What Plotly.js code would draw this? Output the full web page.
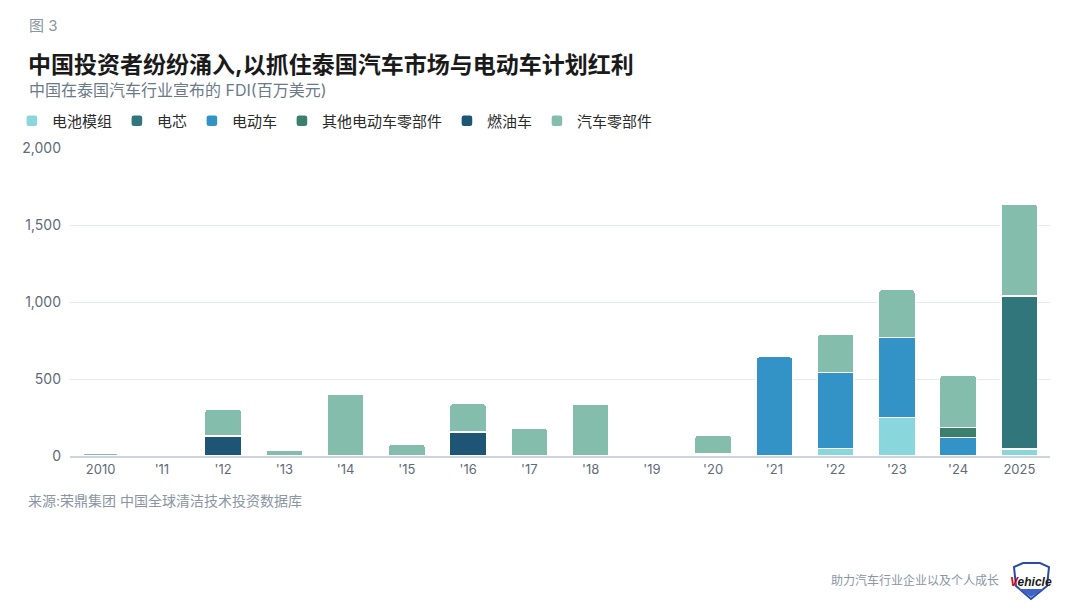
<!DOCTYPE html>
<html>
<head>
<meta charset="utf-8">
<script src="https://cdn.plot.ly/plotly-3.0.1.min.js"></script>
<style>
html,body{margin:0;padding:0;background:#fff;}
#chart{width:1080px;height:614px;}
</style>
</head>
<body>
<div id="chart"></div>
<script>
// ---- data ----
const years = ['2010','2011','2012','2013','2014','2015','2016','2017','2018','2019','2020','2021','2022','2023','2024','2025'];
const yearLabels = ['2010',"'11","'12","'13","'14","'15","'16","'17","'18","'19","'20","'21","'22","'23","'24",'2025'];
const batteryModule = [null,null,null,null,null,null,null,null,null,null,null,null,48,250,null,45];
const batteryCell   = [null,null,null,null,null,null,null,null,null,null,null,null,null,null,null,995];
const ev            = [null,null,null,null,null,null,null,null,null,null,14,645,493,520,120,null];
const otherEvParts  = [null,null,null,null,null,null,null,null,null,null,null,null,null,null,65,null];
const iceVehicles   = [null,null,130,null,null,null,155,null,null,null,null,null,null,null,null,null];
const autoParts     = [16,null,173,39,403,78,185,180,338,null,122,null,250,310,340,595];
const yTicks = [0,500,1000,1500,2000];

const seriesNames = ['电池模组','电芯','电动车','其他电动车零部件','燃油车','汽车零部件'];
const seriesData = [batteryModule,batteryCell,ev,otherEvParts,iceVehicles,autoParts];
const seriesColors = ['#89d6dc','#31767b','#3393c6','#3d7f6e','#1f5574','#85bdad'];

// ---- layout helpers (plot area in pixels) ----
const PL = 70, PR = 1050, PT = 148, PB = 456;
const px = x => (x - PL) / (PR - PL);
const py = y => (PB - y) / (PB - PT);

const FONT = 'Inter, "Noto Sans CJK SC", "Noto Sans", sans-serif';

const traces = seriesNames.map((n,i)=>({
  type:'bar', name:n, x:years, y:seriesData[i],
  marker:{color:seriesColors[i], line:{color:'#ffffff', width:1.4}, cornerradius:3},
  hoverinfo:'skip'
}));

function pathFromPx(pts){
  return pts.map((p,i)=>(i===0?'M':'L')+px(p[0]).toFixed(5)+','+py(p[1]).toFixed(5)).join(' ')+' Z';
}

const layout = {
  width:1080, height:614,
  margin:{l:PL, r:1080-PR, t:PT, b:614-PB},
  paper_bgcolor:'#ffffff', plot_bgcolor:'#ffffff',
  font:{family:FONT, color:'#333'},
  barmode:'stack', bargap:0.4,
  showlegend:true,
  legend:{orientation:'h', xref:'container', yref:'container', x:0.011, y:1-121/614, yanchor:'middle', xanchor:'left',
          font:{size:15, color:'#2b2b2b', family:FONT}, traceorder:'normal', itemclick:false, itemwidth:30},
  title:{text:'<b>中国投资者纷纷涌入,以抓住泰国汽车市场与电动车计划红利</b>', xref:'container', yref:'container',
         x:28/1080, xanchor:'left', y:1-65/614, yanchor:'middle', font:{size:23, color:'#1a1a1a', family:FONT}},
  xaxis:{type:'category', tickvals:years, ticktext:yearLabels, showgrid:false, zeroline:false,
         showline:true, linecolor:'#cdd4db', linewidth:2, ticks:'', tickfont:{size:13, color:'#5f6b78'},
         fixedrange:true},
  yaxis:{range:[0,2000], tickvals:yTicks, tickformat:',', showgrid:true, gridcolor:'#e6e9ed', gridwidth:1,
         zeroline:false, showline:false, ticks:'', ticklabelstandoff:8,
         tickfont:{size:14, color:'#5f6b78'}, fixedrange:true},
  annotations:[
    {text:'图 3', xref:'paper', yref:'paper', x:px(27), y:py(25), xanchor:'left', yanchor:'middle', showarrow:false,
     font:{size:15, color:'#8a96a3'}},
    {text:'中国在泰国汽车行业宣布的 FDI(百万美元)', xref:'paper', yref:'paper', x:px(27), y:py(90), xanchor:'left', yanchor:'middle', showarrow:false,
     font:{size:16, color:'#6b7a89'}},
    {text:'来源:荣鼎集团 中国全球清洁技术投资数据库', xref:'paper', yref:'paper', x:px(26), y:py(500), xanchor:'left', yanchor:'middle', showarrow:false,
     font:{size:14, color:'#8a96a3'}},
    {text:'助力汽车行业企业以及个人成长', xref:'paper', yref:'paper', x:px(1001), y:py(580), xanchor:'right', yanchor:'middle', showarrow:false,
     font:{size:12, color:'#8a96a3'}},
    {text:'<b><i><span style="color:#d0021b">V</span>ehicle</i></b>', xref:'paper', yref:'paper', x:px(1031), y:py(582), xanchor:'center', yanchor:'middle', showarrow:false,
     font:{size:12, color:'#1a1a1a', family:'"Liberation Sans", Arial, sans-serif'}}
  ],
  shapes:[
    {type:'path', xref:'paper', yref:'paper', layer:'below',
     path: pathFromPx([[1014,567],[1023,563],[1040,563],[1049,567],[1047,586],[1031,599],[1016,586]]),
     line:{color:'#2a4aa8', width:2}, fillcolor:'#ffffff'},
    {type:'path', xref:'paper', yref:'paper', layer:'below',
     path: pathFromPx([[1019,589],[1044,589],[1031,597]]),
     line:{color:'#2a4aa8', width:0}, fillcolor:'#3f63c4'}
  ]
};

Plotly.newPlot('chart', traces, layout, {displayModeBar:false, staticPlot:true});
</script>
</body>
</html>
